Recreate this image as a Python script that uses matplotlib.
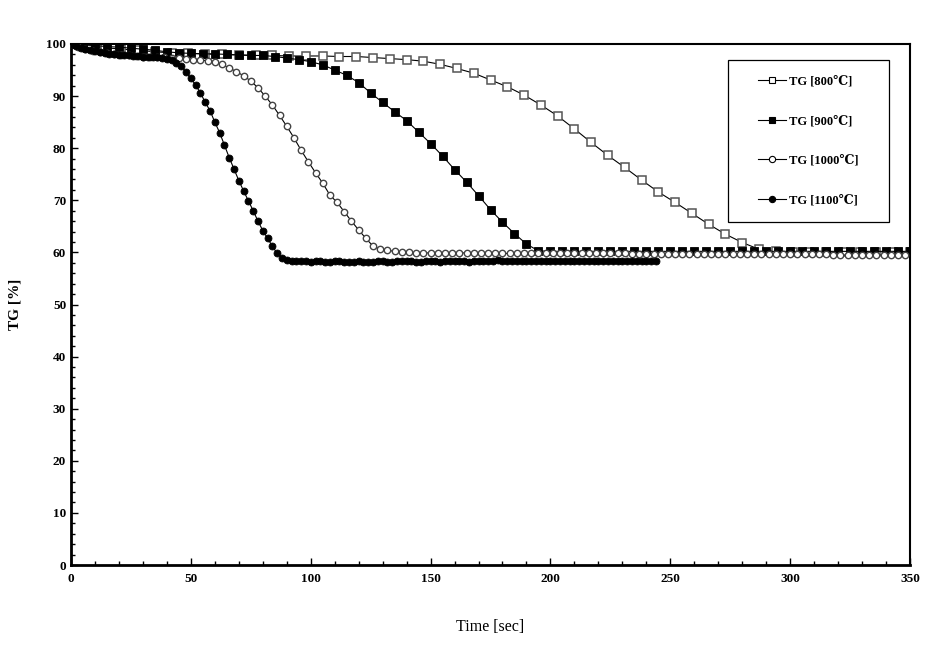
import numpy as np
import matplotlib
matplotlib.use("Agg")
import matplotlib.pyplot as plt
from matplotlib.ticker import MultipleLocator
from matplotlib.patches import Rectangle

plt.rcParams['font.family'] = ['Liberation Serif', 'DejaVu Serif']

labels = ["TG [800\u2103]", "TG [900\u2103]", "TG [1000\u2103]", "TG [1100\u2103]"]

# 800 C, sampled every 7 s
t800 = np.arange(0, 351, 7)
tg800 = [100, 99.6, 99.3, 99.0, 98.8, 98.5, 98.3, 98.2, 98.1, 98.0,
         97.9, 97.8, 97.8, 97.7, 97.7, 97.7, 97.6, 97.6, 97.4, 97.2,
         97.0, 96.7, 96.1, 95.3, 94.4, 93.1, 91.8, 90.2, 88.3, 86.2,
         83.7, 81.1, 78.6, 76.3, 73.9, 71.6, 69.6, 67.5, 65.4, 63.5,
         61.9, 60.6, 60.2, 60.1, 60.1, 60.1, 60.1, 60.1, 60.1, 60.1, 60.1]

# 900 C, sampled every 5 s
t900 = np.arange(0, 351, 5)
tg900 = [100, 99.8, 99.7, 99.5, 99.4, 99.2, 99.0, 98.8, 98.5, 98.3,
         98.2, 98.1, 98.1, 98.0, 97.9, 97.8, 97.8, 97.6, 97.3, 97.0,
         96.6, 96.0, 95.0, 94.0, 92.6, 90.6, 88.8, 87.0, 85.3, 83.1,
         80.9, 78.5, 75.9, 73.5, 70.9, 68.2, 65.8, 63.6, 61.6, 60.3,
         60.2, 60.2, 60.2, 60.2, 60.2, 60.2, 60.2, 60.2, 60.2, 60.2,
         60.2, 60.2, 60.2, 60.2, 60.2, 60.2, 60.2, 60.2, 60.2, 60.2,
         60.2, 60.2, 60.2, 60.2, 60.2, 60.2, 60.2, 60.2, 60.2, 60.2, 60.2]

# 1000 C, sampled every 3 s
t1000 = np.arange(0, 349, 3)
tg1000 = [100, 99.5, 99.1, 98.7, 98.4, 98.2, 98.0, 97.9, 97.8, 97.7,
          97.6, 97.6, 97.5, 97.5, 97.4, 97.3, 97.2, 97.0, 96.9, 96.8,
          96.6, 96.1, 95.4, 94.7, 93.9, 92.9, 91.6, 90.0, 88.3, 86.3,
          84.2, 82.0, 79.6, 77.4, 75.3, 73.3, 71.0, 69.6, 67.8, 66.0,
          64.3, 62.7, 61.2, 60.6, 60.4, 60.2, 60.0, 60.0, 59.9, 59.9,
          59.9, 59.9, 59.9, 59.9, 59.9, 59.9, 59.9, 59.9, 59.9, 59.9,
          59.8, 59.8, 59.8, 59.8, 59.8, 59.8, 59.8, 59.8, 59.8, 59.8,
          59.8, 59.8, 59.8, 59.8, 59.8, 59.8, 59.8, 59.8, 59.7, 59.7,
          59.7, 59.7, 59.7, 59.7, 59.7, 59.7, 59.7, 59.7, 59.7, 59.7,
          59.7, 59.7, 59.7, 59.7, 59.6, 59.6, 59.6, 59.6, 59.6, 59.6,
          59.6, 59.6, 59.6, 59.6, 59.6, 59.6, 59.5, 59.5, 59.5, 59.5,
          59.5, 59.5, 59.5, 59.5, 59.5, 59.5, 59.5]

# 1100 C, sampled every 2 s
t1100 = np.arange(0, 245, 2)
tg1100 = [100, 99.6, 99.3, 99.0, 98.8, 98.6, 98.4, 98.2, 98.1, 98.0,
          97.9, 97.8, 97.8, 97.7, 97.7, 97.6, 97.6, 97.6, 97.5, 97.4,
          97.2, 96.9, 96.4, 95.7, 94.6, 93.4, 92.1, 90.6, 88.8, 87.2,
          85.0, 83.0, 80.6, 78.2, 76.0, 73.8, 71.8, 69.9, 68.0, 66.0,
          64.2, 62.7, 61.2, 59.8, 58.9, 58.5, 58.4, 58.3, 58.3, 58.3,
          58.2, 58.3, 58.3, 58.2, 58.2, 58.3, 58.3, 58.2, 58.2, 58.2,
          58.3, 58.2, 58.2, 58.2, 58.3, 58.3, 58.2, 58.2, 58.3, 58.4,
          58.3, 58.3, 58.2, 58.2, 58.3, 58.4, 58.3, 58.2, 58.3, 58.3,
          58.4, 58.3, 58.3, 58.2, 58.3, 58.4, 58.4, 58.3, 58.3, 58.5,
          58.4, 58.3, 58.3, 58.4, 58.3, 58.3, 58.4, 58.4, 58.3, 58.3,
          58.4, 58.4, 58.3, 58.3, 58.4, 58.4, 58.4, 58.3, 58.3, 58.4,
          58.4, 58.4, 58.3, 58.4, 58.4, 58.4, 58.3, 58.4, 58.4, 58.4,
          58.4, 58.4, 58.4]

W, H = 947, 647
fig = plt.figure(figsize=(W / 100, H / 100), dpi=100)
ax = fig.add_axes([71 / W, 1 - 565 / H, (910 - 71) / W, (565 - 44) / H])

ax.plot(t800, tg800, color='black', lw=0.8, marker='s', ms=5.6,
        mfc='white', mec='#555555', mew=1.1, label=labels[0], zorder=2)
ax.plot(t900, tg900, color='black', lw=0.8, marker='s', ms=5.8,
        mfc='black', mec='black', mew=0.6, label=labels[1], zorder=3)
ax.plot(t1000, tg1000, color='black', lw=0.8, marker='o', ms=4.6,
        mfc='white', mec='#444444', mew=1.0, label=labels[2], zorder=4)
ax.plot(t1100, tg1100, color='black', lw=0.8, marker='o', ms=5.0,
        mfc='black', mec='black', mew=0.6, label=labels[3], zorder=5)

ax.set_xlim(0, 350)
ax.set_ylim(0, 100)
ax.xaxis.set_major_locator(MultipleLocator(50))
ax.xaxis.set_minor_locator(MultipleLocator(10))
ax.yaxis.set_major_locator(MultipleLocator(10))
ax.yaxis.set_minor_locator(MultipleLocator(2))
ax.tick_params(which='both', direction='in', width=1.0)
ax.tick_params(which='major', length=5, labelsize=9.5)
ax.tick_params(axis='x', which='major', pad=6)
ax.tick_params(which='minor', length=3)
for lab in ax.get_xticklabels() + ax.get_yticklabels():
    lab.set_fontweight('bold')

ax.spines['left'].set_linewidth(2.0)
ax.spines['bottom'].set_linewidth(2.0)
ax.spines['top'].set_linewidth(1.5)
ax.spines['right'].set_linewidth(1.5)

ax.set_xlabel("Time [sec]", fontsize=11.5, labelpad=24)
ax.set_ylabel("TG [%]", fontsize=11, fontweight='bold', labelpad=18)

# legend frame
fig.patches.append(Rectangle((728 / W, 1 - 222 / H), 161 / W, 162 / H,
                             transform=fig.transFigure, fill=True,
                             facecolor='white', edgecolor='black', lw=0.9,
                             zorder=10))
leg = fig.legend(handles=[plt.Line2D([], [], color='black', lw=0.8, marker=m, ms=4.5,
                                     mfc=fc, mec='black', mew=0.8)
                          for m, fc in [('s', 'white'), ('s', 'black'),
                                        ('o', 'white'), ('o', 'black')]],
                 labels=labels, loc='center',
                 bbox_to_anchor=((728 + 889) / 2 / W, 1 - 141 / H),
                 frameon=False, labelspacing=2.2, handlelength=2.2,
                 handletextpad=0.3, prop={'weight': 'bold', 'size': 9})
leg.set_zorder(11)

fig.savefig("out.png", dpi=100)
